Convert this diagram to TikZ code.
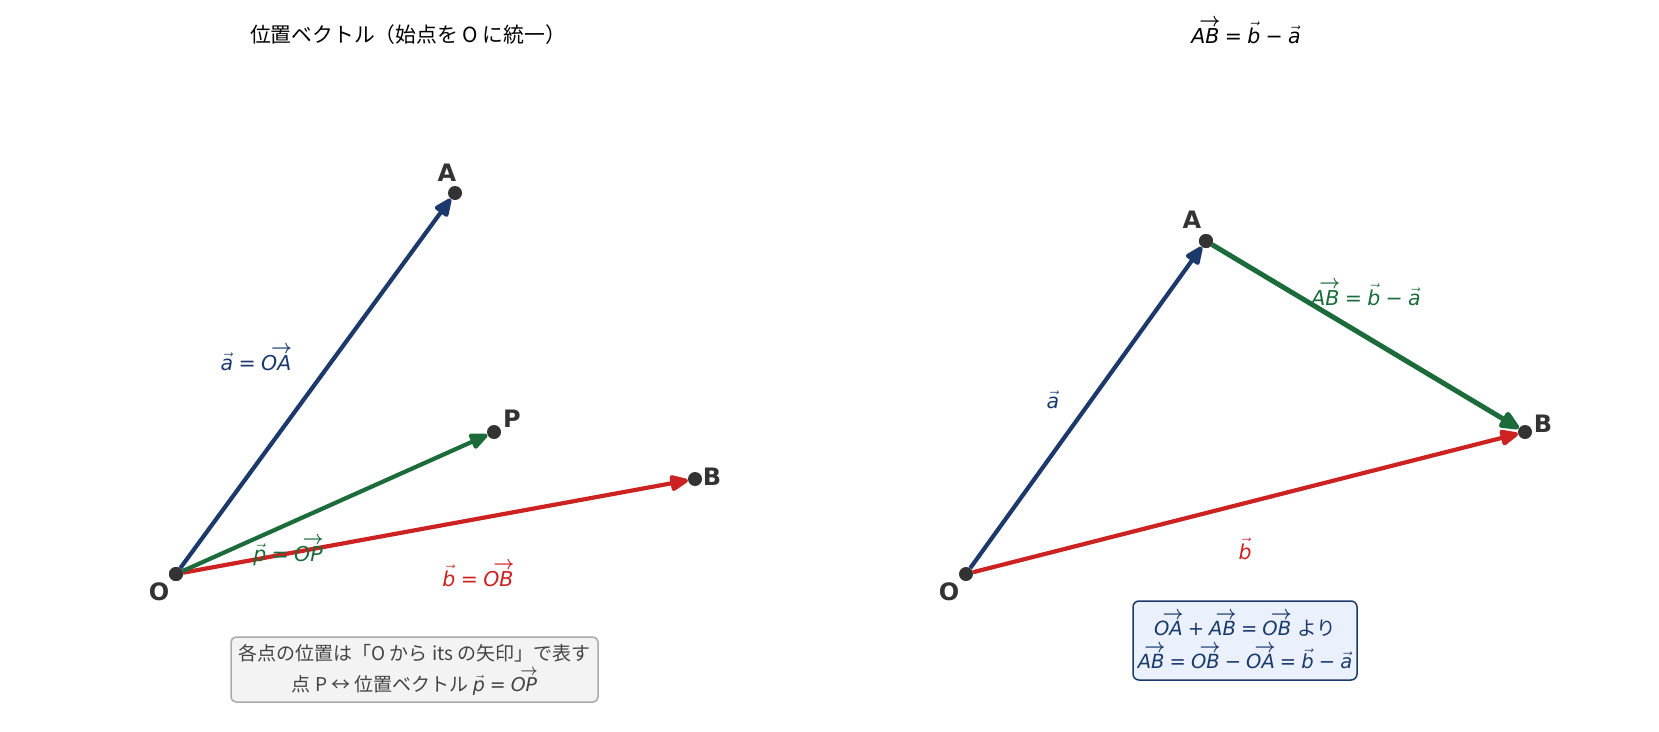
\documentclass[tikz,border=0pt]{standalone}
\usepackage{fontspec}
\setmainfont{DejaVu Sans}
\newfontfamily\cjk{Noto Sans CJK JP}
\usetikzlibrary{arrows.meta}
\definecolor{cblue}{HTML}{1B3A6B}
\definecolor{cgreen}{HTML}{1B6B3B}
\definecolor{cred}{HTML}{CC2222}
\definecolor{dotc}{HTML}{333333}
\definecolor{gtext}{HTML}{444444}
\definecolor{gfill}{HTML}{F3F3F3}
\definecolor{gedge}{HTML}{AAAAAA}
\definecolor{bfill}{HTML}{EAF1FC}
\newsavebox\vvbox
\newcommand\vv[1]{\sbox\vvbox{\itshape #1}\leavevmode\usebox\vvbox\llap{\raisebox{0.84em}{\scalebox{0.88}[0.95]{\boldmath$\rightarrow$}}\kern-0.04em}}
\newcommand\va[1]{\ensuremath{\vec{\mbox{\itshape #1}}}}
\newcommand\eq{\hspace{0.26em}=\hspace{0.26em}}
\newcommand\mi{\hspace{0.26em}−\hspace{0.26em}}
\newcommand\pl{\hspace{0.26em}+\hspace{0.26em}}
\tikzset{
  dot/.style={circle, fill=dotc, inner sep=0pt, minimum size=14pt},
  ptlbl/.style={font=\fontsize{24}{30}\selectfont\bfseries, text=dotc, inner sep=0pt},
  vecarrow/.style={line width=4.2pt, -{Triangle[length=21pt,width=17pt,round]}},
  mlbl/.style={font=\fontsize{20.5}{25}\selectfont, inner sep=0pt},
  ttl/.style={font=\fontsize{20.5}{24}\selectfont, inner sep=0pt},
  notebox/.style={draw=gedge, fill=gfill, rounded corners=5pt, line width=1.5pt, text=gtext, align=center, font=\cjk\fontsize{19}{31}\selectfont, minimum width=367pt, minimum height=65pt, inner sep=0pt},
  bluebox/.style={draw=cblue, fill=bfill, rounded corners=6pt, line width=1.5pt, text=cblue, align=center, font=\fontsize{19.5}{33}\selectfont, minimum width=224pt, minimum height=79pt, inner sep=0pt},
}
\begin{document}
\begin{tikzpicture}[x=1pt,y=1pt]
\useasboundingbox (0,0) rectangle (1659,-731);
% ---------- left panel ----------
\node[ttl, font=\cjk\fontsize{20.8}{24}\selectfont] (t1) at (408,-35) {位置ベクトル（始点を O に統一）};
\node[dot] (O1) at (176,-574) {};
\node[dot] (A1) at (455,-193) {};
\node[dot] (P1) at (494,-432) {};
\node[dot] (B1) at (695,-479) {};
\draw[vecarrow, cblue] (O1) -- (A1);
\draw[vecarrow, cred] (O1) -- (B1);
\draw[vecarrow, cgreen] (O1) -- (P1);
\node[dot] at (176,-574) {};
\node[ptlbl] (lO1) at (159,-592) {O};
\node[ptlbl] (lA1) at (447,-173) {A};
\node[ptlbl] (lP1) at (512,-419) {P};
\node[ptlbl] (lB1) at (712,-477) {B};
\node[mlbl, text=cblue] (la) at (256,-358) {\va{a}\eq\vv{OA}};
\node[mlbl, text=cgreen] (lp) at (288,-551) {\va{p}\eq\vv{OP}};
\node[mlbl, text=cred] (lb) at (478,-574) {\va{b}\eq\vv{OB}};
\node[notebox] (nb) at (414.5,-669.5) {各点の位置は「O から its の矢印」で表す\\点 P ↔ 位置ベクトル {\fontspec{DejaVu Sans}\va{p}\eq\vv{OP}}};
% ---------- right panel ----------
\node[ttl] (t2) at (1246,-31) {\vv{AB}\eq\va{b}\mi\va{a}};
\node[dot] (O2) at (966,-574) {};
\node[dot] (A2) at (1206,-241) {};
\node[dot] (B2) at (1525,-432) {};
\draw[vecarrow, cblue] (O2) -- (A2);
\draw[vecarrow, cred] (O2) -- (B2);
\draw[vecarrow, cgreen, line width=5pt, -{Triangle[length=23pt,width=19pt,round]}] (A2) -- (B2);
\node[dot] at (1206,-241) {};
\node[ptlbl] (lO2) at (949,-592) {O};
\node[ptlbl] (lA2) at (1192,-220) {A};
\node[ptlbl] (lB2) at (1543,-424) {B};
\node[mlbl, text=cblue] (la2) at (1053,-400) {\va{a}};
\node[mlbl, text=cred] (lb2) at (1245,-549) {\va{b}};
\node[mlbl, text=cgreen] (lab) at (1366,-293) {\vv{AB}\eq\va{b}\mi\va{a}};
\node[bluebox] (bb) at (1245,-640.5) {\vv{OA}\pl\vv{AB}\eq\vv{OB} {\cjk より}\\\vv{AB}\eq\vv{OB}\mi\vv{OA}\eq\va{b}\mi\va{a}};
\end{tikzpicture}
\end{document}
